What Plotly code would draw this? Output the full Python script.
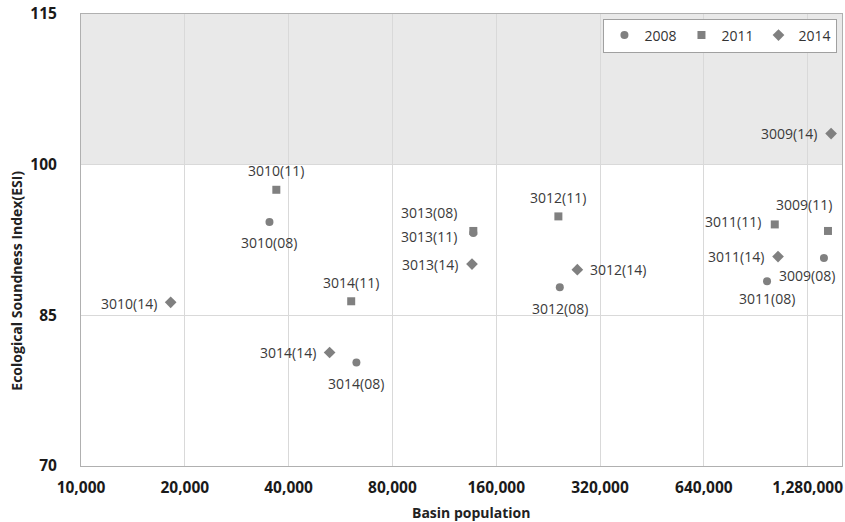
import math
import plotly.graph_objects as go

# ---- data ----
labels_08 = ["3010(08)", "3014(08)", "3013(08)", "3012(08)", "3011(08)", "3009(08)"]
pop_08 = [35200, 62900, 137300, 244600, 976000, 1427000]
esi_08 = [94.3, 80.3, 93.2, 87.8, 88.4, 90.7]

labels_11 = ["3010(11)", "3014(11)", "3013(11)", "3012(11)", "3011(11)", "3009(11)"]
pop_11 = [36850, 60750, 137300, 242300, 1027700, 1466000]
esi_11 = [97.5, 86.4, 93.4, 94.85, 94.05, 93.4]

labels_14 = ["3010(14)", "3014(14)", "3013(14)", "3012(14)", "3011(14)", "3009(14)"]
pop_14 = [18200, 52600, 136100, 275000, 1050300, 1497000]
esi_14 = [86.3, 81.3, 90.1, 89.55, 90.85, 103.1]

x_ticks = [10000, 20000, 40000, 80000, 160000, 320000, 640000, 1280000]
x_ticktext = ["10,000", "20,000", "40,000", "80,000", "160,000", "320,000", "640,000", "1,280,000"]
y_ticks = [70, 85, 100, 115]

# label placement: (xanchor, xshift, yshift)
place = {
    "3010(08)": ("center", 0, -21),
    "3014(08)": ("center", 0, -21),
    "3013(08)": ("right", -15, 20),
    "3012(08)": ("center", 0, -21),
    "3011(08)": ("center", 0, -17),
    "3009(08)": ("center", -17, -17),
    "3010(11)": ("center", 0, 19),
    "3014(11)": ("center", 0, 19),
    "3013(11)": ("right", -15, -6),
    "3012(11)": ("center", 0, 19),
    "3011(11)": ("right", -13, 3),
    "3009(11)": ("center", -24, 26),
    "3010(14)": ("right", -13, -1),
    "3014(14)": ("right", -13, 0),
    "3013(14)": ("right", -13, 0),
    "3012(14)": ("left", 12, 0),
    "3011(14)": ("right", -13, 0),
    "3009(14)": ("right", -13, 0),
}

FONT = "Open Sans"
GRAY = "#808080"

fig = go.Figure()
series = [
    ("2008", pop_08, esi_08, labels_08, "circle", 8),
    ("2011", pop_11, esi_11, labels_11, "square", 8),
    ("2014", pop_14, esi_14, labels_14, "diamond", 9),
]
for name, xs, ys, labs, sym, sz in series:
    fig.add_trace(go.Scatter(
        x=xs, y=ys, mode="markers", name=name,
        marker=dict(symbol=sym, size=sz, color=GRAY, line=dict(width=0)),
    ))

annotations = []
for name, xs, ys, labs, sym, sz in series:
    for xv, yv, lab in zip(xs, ys, labs):
        xa, xs_, ys_ = place[lab]
        annotations.append(dict(
            x=math.log10(xv), y=yv, xref="x", yref="y", text=lab, showarrow=False,
            xanchor=xa, yanchor="middle", xshift=xs_, yshift=ys_, borderpad=0,
            font=dict(family=FONT, size=14, color="#3a3a3a"),
        ))

# axis titles
annotations.append(dict(
    text="<b>Basin population</b>", xref="paper", yref="paper", x=0.5125, y=0,
    xanchor="center", yanchor="middle", yshift=-46, showarrow=False,
    font=dict(family=FONT, size=14, color="#222"),
))
annotations.append(dict(
    text="<b>Ecological Soundness Index(ESI)</b>", xref="paper", yref="paper", x=0, y=0.41,
    xanchor="center", yanchor="middle", xshift=-64, textangle=-90, showarrow=False,
    font=dict(family=FONT, size=14, color="#222"),
))

fig.add_shape(type="rect", xref="paper", yref="y", x0=0, x1=1, y0=100, y1=115,
              fillcolor="#e9e9e9", line=dict(width=0), layer="below")

fig.update_layout(
    width=845, height=522,
    margin=dict(l=81, r=3, t=14, b=56),
    paper_bgcolor="white", plot_bgcolor="white",
    font=dict(family=FONT, color="#222"),
    showlegend=True,
    legend=dict(orientation="h", x=0.994, xanchor="right", y=0.99, yanchor="top",
                bgcolor="white", bordercolor="#a0a0a0", borderwidth=1,
                font=dict(family=FONT, size=14, color="#333"),
                itemwidth=30, tracegroupgap=0),
    annotations=annotations,
    xaxis=dict(
        type="log", range=[4, math.log10(1610000)],
        tickvals=x_ticks, ticktext=x_ticktext,
        showgrid=True, gridcolor="#d9d9d9", gridwidth=1,
        zeroline=False, showline=True, linecolor="#b0b0b0", mirror=True,
        ticks="", ticklabelstandoff=7,
        tickfont=dict(family=FONT, size=15.5, color="#1a1a1a", weight="bold"),
    ),
    yaxis=dict(
        range=[70, 115], tickvals=y_ticks,
        showgrid=True, gridcolor="#d9d9d9", gridwidth=1,
        zeroline=False, showline=True, linecolor="#b0b0b0", mirror=True,
        ticks="", ticklabelstandoff=20,
        tickfont=dict(family=FONT, size=15.5, color="#1a1a1a", weight="bold"),
    ),
)

fig.write_html("out.html")
